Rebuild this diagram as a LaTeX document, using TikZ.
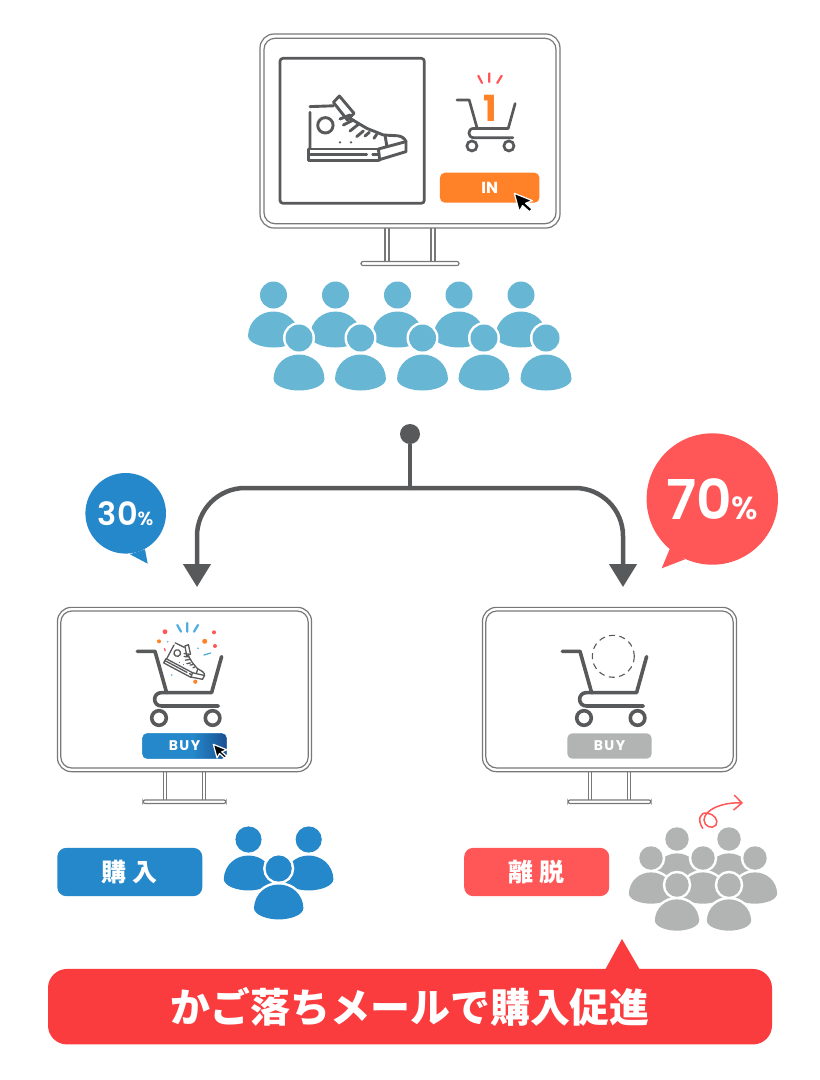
\documentclass[tikz,border=0pt]{standalone}
\usepackage{fontspec}
\setmainfont{Poppins}
\newfontfamily\cjk{Noto Sans CJK JP}
\newfontfamily\numfont{Poppins SemiBold}
\usetikzlibrary{arrows.meta}
\definecolor{inkgray}{HTML}{58595B}
\definecolor{framegray}{HTML}{787878}
\definecolor{crowdblue}{HTML}{66B6D4}
\definecolor{buyblue}{HTML}{2488CA}
\definecolor{buydark}{HTML}{1B4F92}
\definecolor{exitred}{HTML}{FF5757}
\definecolor{bannerred}{HTML}{FB3C3E}
\definecolor{inorange}{HTML}{FF8128}
\definecolor{mutegray}{HTML}{B2B4B4}
\definecolor{sparkblue}{HTML}{4FADE0}
\pgfdeclarehorizontalshading{buyshade}{100bp}{color(0bp)=(buyblue); color(55bp)=(buyblue); color(75bp)=(buydark); color(100bp)=(buydark)}
\tikzset{
  pics/monitor/.style={code={
    \draw[framegray, line width=1.2pt, fill=white, rounded corners=14] (-150,-97) rectangle (150,97);
    \draw[framegray, line width=1.2pt, rounded corners=11] (-146,-92.7) rectangle (146,92.7);
    \draw[framegray, line width=1.2pt] (-25,97) -- (-25,130.5) (-21,97) -- (-21,130.5) (21,97) -- (21,130.5) (25,97) -- (25,130.5);
    \draw[framegray, line width=1.2pt, rounded corners=2] (-49,130.5) rectangle (49,134.5);
  }},
  pics/cart/.style={code={
    \draw[line cap=round, line join=round] (-46,-32) -- (-28.3,-32) -- (-16.7,9.3);
    \draw[line cap=round, line join=round] (38.3,-26.7) -- (28.3,9.3) -- (-21.7,9.3) .. controls (-31,9.3) and (-31,22.7) .. (-21.7,22.7) -- (35,22.7);
    \draw (-24.3,34.7) circle (7.3) (29.3,34.7) circle (7.3);
  }},
  pics/shoe/.style={code={
    \begin{scope}[line cap=round, line join=round]
    \draw (-46.7,20) -- (-46.7,-16) (-46.7,-21.7) -- (-23.3,-22.5);
    \draw (-23.3,-26) -- (-17.3,-32.3) -- (-2.7,-15) -- (-9.3,-8.3) -- cycle;
    \draw (-6.7,-10) -- (10,0) -- (26.7,6.7) -- (41,7.5) .. controls (45,8) and (48,10) .. (49.3,13.3) -- (49.3,23.3) -- (21.7,31.7);
    \draw (21.7,20.7) -- (49.3,13.3) (28.3,6.7) -- (30,17) (21.7,20.7) -- (23,32);
    \draw (-46,20.7) -- (21.7,20.7) (-48.3,20.7) -- (-48.3,32) -- (21.7,32) (-46,26) -- (10,26) (16,26) -- (22.3,26);
    \draw (-31.3,-3) circle (7.7);
    \draw (-16.7,-9.3) -- (-6.7,-13.3) (-13.3,-3.3) -- (-3.3,-8.3) (-6.7,2.7) -- (1.7,-4) (0,8.3) -- (6.7,2.7) (8.3,7.7) -- (12.7,4) (17.3,10) -- (20,6);
    \fill (-16.7,14) circle (1.3) (-5.7,14) circle (1.3);
    \end{scope}
  }},
  pics/person/.style={code={
    \draw[draw=white, line width=5pt, fill=#1] (0,0) circle (13.5);
    \draw[draw=white, line width=5pt, fill=#1] (-25.5,41) .. controls (-25,26) and (-13,16.5) .. (0,16.5) .. controls (13,16.5) and (25,26) .. (25.5,41) .. controls (25,48) and (12,52.5) .. (0,52.5) .. controls (-12,52.5) and (-25,48) .. cycle;
    \fill[#1] (0,0) circle (13.5);
    \fill[#1] (-25.5,41) .. controls (-25,26) and (-13,16.5) .. (0,16.5) .. controls (13,16.5) and (25,26) .. (25.5,41) .. controls (25,48) and (12,52.5) .. (0,52.5) .. controls (-12,52.5) and (-25,48) .. cycle;
  }},
  pics/cursor/.style={code={
    \draw[draw=white, line width=1.2pt, fill=black, line join=round] (0,0) -- (18,7.3) -- (11.3,10) -- (18,16) -- (15,18.3) -- (8.3,12.3) -- (5,18.3) -- cycle;
  }},
  pillbox/.style={fill=#1, rounded corners=5, minimum width=84.4, minimum height=25.4, text=white, font=\bfseries\fontsize{14}{14}\selectfont},
  tagbox/.style={fill=#1, rounded corners=9, minimum width=145, minimum height=48.3, text=white, font=\cjk\bfseries\fontsize{25}{25}\selectfont},
  bubble/.style={circle, fill=#1, text=white, inner sep=0pt},
  branch/.style={draw=inkgray, line width=4.5pt, rounded corners=48},
}
\begin{document}
\begin{tikzpicture}[x=1pt, y=-1pt]
\useasboundingbox (0,0) rectangle (820,1080);
\fill[white] (0,0) rectangle (820,1080);

% top screen
\pic at (410,131) {monitor};
\draw[inkgray, line width=2.7pt, rounded corners=3] (280,58.3) rectangle (424.3,203.3);
\pic[inkgray, line width=2.9pt] at (356.7,128.3) {shoe};
\pic[inkgray, line width=2.7pt, scale=.69] at (488.7,122) {cart};
\node[text=inorange, font=\bfseries\fontsize{36}{36}\selectfont, inner sep=0pt] (cartcount) at (490,108) {1};
\draw[exitred, line width=2.2pt, line cap=round] (478.3,75.7) -- (482,83) (489.3,73.3) -- (489.3,82) (501.7,75.7) -- (497.3,83);
\node[pillbox=inorange, minimum width=99.5, minimum height=30, font=\bfseries\fontsize{16}{16}\selectfont] (inbutton) at (489.7,187.7) {IN};
\pic at (514.3,193.3) {cursor};

% crowd
\foreach \x in {273.5,335.5,397.5,459,521} \pic at (\x,295) {person=crowdblue};
\foreach \x in {299,360.5,422.5,484,546} \pic at (\x,338) {person=crowdblue};

% branch
\node[circle, fill=inkgray, minimum size=20, inner sep=0pt] (branchdot) at (410,434) {};
\coordinate (split) at (410,488);
\coordinate (buyend) at (197,587);
\coordinate (exitend) at (623,587);
\draw[branch] (branchdot) -- (split);
\draw[branch, -{Triangle[length=23pt,width=27pt]}] (split) -| (buyend);
\draw[branch, -{Triangle[length=23pt,width=27pt]}] (split) -| (exitend);

% bubbles
\fill[buyblue] (145,549.3) -- (147.7,563.7) -- (130,554.3) -- cycle;
\node[bubble=buyblue, minimum size=80.6] (buybubble) at (125.7,513.3) {\numfont\fontsize{32}{32}\selectfont 30{\fontsize{19}{19}\selectfont\%}};
\fill[exitred] (670,548.3) -- (661.7,568.3) -- (685,559.3) -- cycle;
\node[bubble=exitred, minimum size=131.4] (exitbubble) at (712.3,499) {\numfont\fontsize{55}{55}\selectfont 70{\fontsize{32}{32}\selectfont\%}};

% buy screen
\pic[scale=.847] at (184.5,689.5) {monitor};
\pic[inkgray, line width=3.6pt] at (183.3,683.3) {cart};
\pic[inkgray, line width=1.3pt, scale=.43, rotate=-28] at (188.5,660.5) {shoe};
\draw[sparkblue, line width=2.2pt, line cap=round] (177.3,625) -- (181,631.7) (187.3,623) -- (187.3,631.7) (198,625) -- (194,631.7);
\draw[sparkblue, line width=1.3pt, line cap=round] (204,655) -- (210.7,653);
\fill[exitred] (165,631.7) circle (2.4) (214,632.3) circle (2) (215,646) circle (2);
\draw[exitred, line width=1.3pt] (164.3,648.3) -- (165.3,651);
\fill[inorange] (159,641.3) circle (2) (204.7,641.3) circle (2.5) (195.3,681.7) circle (2.1);
\fill[sparkblue] (167.7,641.7) circle (.9) (198,648.3) circle (.9) (171.7,675) circle (.9);
\node[pillbox=buyblue, shade, shading=buyshade, minimum width=84.4] (buybutton) at (184.5,746) {\addfontfeature{LetterSpace=10}BUY};
\pic[scale=.75] at (213.3,744.3) {cursor};

% exit screen
\pic[scale=.847] at (609.5,689.5) {monitor};
\pic[inkgray, line width=3.6pt] at (608.3,683.3) {cart};
\draw[inkgray, line width=1.1pt, dash pattern=on 6pt off 4.5pt] (613.3,656.3) circle (21);
\node[pillbox=mutegray] (mutebutton) at (609.5,746) {\addfontfeature{LetterSpace=10}BUY};

% result tags
\node[tagbox=buyblue] (buytag) at (129.8,872) {購\hspace{6pt}入};
\foreach \x/\y in {248.5/839.5,308.7/839.5} \pic[scale=.97] at (\x,\y) {person=buyblue};
\pic[scale=.97] at (278.7,868.5) {person=buyblue};
\node[tagbox=exitred] (exittag) at (536.7,872) {離\hspace{6pt}脱};
\foreach \x/\y in {677/839,729/839,651/858,703/858,755/858,677/885,729/885} \pic[scale=.87] at (\x,\y) {person=mutegray};
\draw[exitred, line width=1.5pt, line cap=round, -{Straight Barb[length=8pt,width=15pt]}] (702.7,828.3) .. controls (697,820) and (700,812) .. (707,813) .. controls (714,814) and (719,820) .. (716,825) .. controls (712,830) and (704,826) .. (704,820) .. controls (704,810) and (722,802) .. (743,803);

% banner
\fill[bannerred] (605,970) -- (622,939) -- (640,970) -- cycle;
\node[fill=bannerred, rounded corners=19, minimum width=724, minimum height=75.5, text=white, font=\cjk\bfseries\fontsize{40}{40}\selectfont, inner sep=0pt] (banner) at (410,1006.7) {かご落ちメールで購入促進};
\end{tikzpicture}
\end{document}
